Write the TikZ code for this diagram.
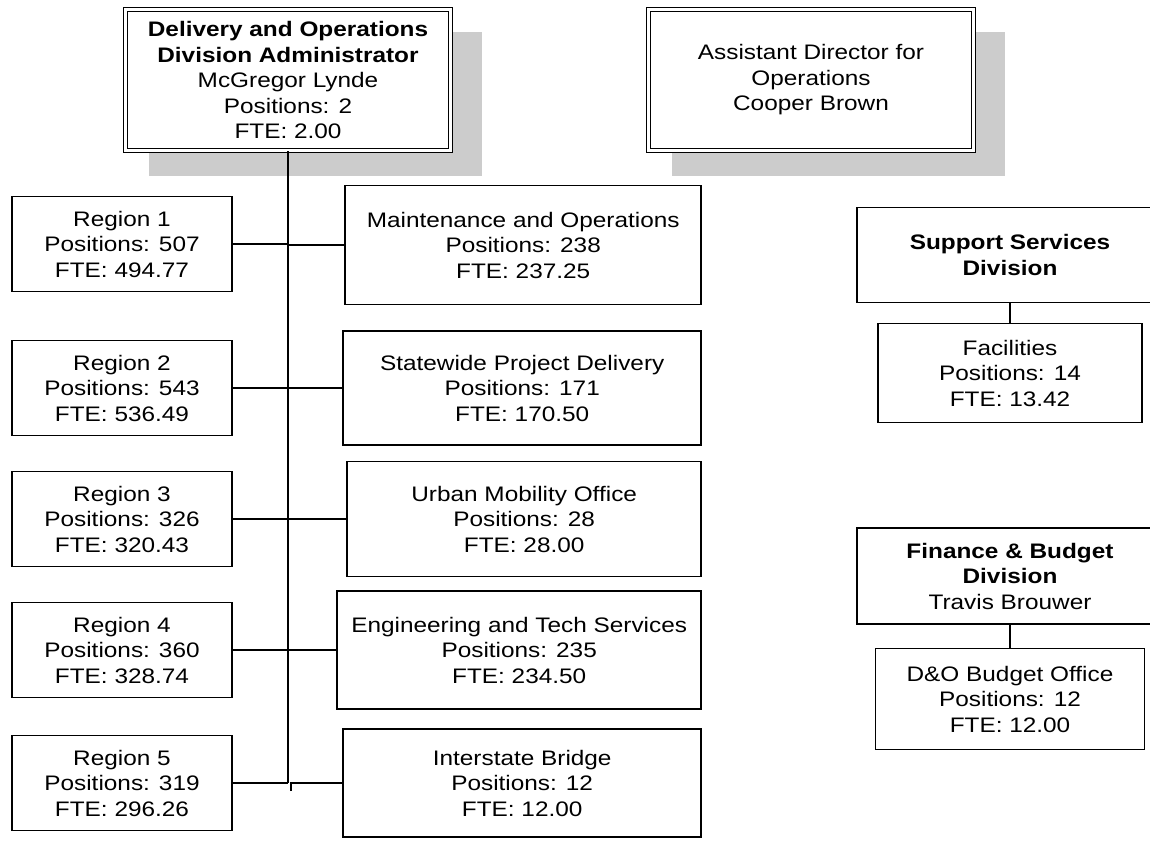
\documentclass[tikz,border=0pt]{standalone}
\usepackage{fontspec}
\setmainfont[FakeStretch=1.16]{Liberation Sans}
\usepackage{xcolor}
\usepackage{tikz}
\usetikzlibrary{backgrounds}
\definecolor{shadowgray}{RGB}{204,204,204}

\begin{document}
\begin{tikzpicture}[
  x=1pt, y=-1pt,
  font=\fontsize{21}{25.5}\selectfont,
  headbox/.style={draw=black, line width=1.2pt, double=white, double distance=2.6pt, fill=white, align=center, inner sep=0pt, minimum width=325pt, minimum height=141pt},
  unit/.style={draw=black, line width=1.6pt, fill=white, align=center, inner sep=0pt},
  regionbox/.style={unit, minimum width=220pt, minimum height=95pt},
  officebox/.style={unit, anchor=east},
  link/.style={line width=1.6pt, draw=black},
  trunkline/.style={line width=2.6pt, draw=black}
]
\useasboundingbox (0,0) rectangle (1150,840);

\node[headbox] (admin) at (288,80)
  {\textbf{Delivery and Operations}\\
   \textbf{Division Administrator}\\
   McGregor Lynde\\
   Positions: 2\\
   FTE: 2.00};

\node[headbox] (asstdir) at (811,80)
  {Assistant Director for\\
   Operations\\
   Cooper Brown};

\node[regionbox] (region1) at (122,244) {Region 1\\Positions: 507\\FTE: 494.77};
\node[regionbox] (region2) at (122,388) {Region 2\\Positions: 543\\FTE: 536.49};
\node[regionbox] (region3) at (122,519) {Region 3\\Positions: 326\\FTE: 320.43};
\node[regionbox] (region4) at (122,650) {Region 4\\Positions: 360\\FTE: 328.74};
\node[regionbox] (region5) at (122,783) {Region 5\\Positions: 319\\FTE: 296.26};

\node[officebox, minimum width=356pt, minimum height=119pt] (maint) at (702,245)
  {Maintenance and Operations\\Positions: 238\\FTE: 237.25};
\node[officebox, minimum width=358pt, minimum height=114pt] (statewide) at (702,388)
  {Statewide Project Delivery\\Positions: 171\\FTE: 170.50};
\node[officebox, minimum width=354pt, minimum height=115pt] (urban) at (702,519)
  {Urban Mobility Office\\Positions: 28\\FTE: 28.00};
\node[officebox, minimum width=364pt, minimum height=118pt] (engtech) at (702,650)
  {Engineering and Tech Services\\Positions: 235\\FTE: 234.50};
\node[officebox, minimum width=358pt, minimum height=108pt] (bridge) at (702,783)
  {Interstate Bridge\\Positions: 12\\FTE: 12.00};

\node[unit, minimum width=306pt, minimum height=95pt] (support) at (1010,255)
  {\textbf{Support Services}\\\textbf{Division}};
\node[unit, minimum width=264pt, minimum height=99pt] (facil) at (1010,373)
  {Facilities\\Positions: 14\\FTE: 13.42};
\node[unit, minimum width=306pt, minimum height=96pt] (finance) at (1010,576)
  {\textbf{Finance \& Budget}\\\textbf{Division}\\Travis Brouwer};
\node[unit, minimum width=269pt, minimum height=101pt] (budgetoff) at (1010,699)
  {D\&O Budget Office\\Positions: 12\\FTE: 12.00};

\coordinate (trunkend) at (288,783);
\draw[trunkline] (admin.south) -- (trunkend);

\draw[link] (region1.east) -- (region1.east -| trunkend);
\draw[link] (region2.east) -- (region2.east -| trunkend);
\draw[link] (region3.east) -- (region3.east -| trunkend);
\draw[link] (region4.east) -- (region4.east -| trunkend);
\draw[link] (region5.east) -- (trunkend);

\draw[link] (maint.west -| trunkend) -- (maint.west);
\draw[link] (statewide.west -| trunkend) -- (statewide.west);
\draw[link] (urban.west -| trunkend) -- (urban.west);
\draw[link] (engtech.west -| trunkend) -- (engtech.west);
\coordinate (bridgejog) at (291,791);
\draw[link] (bridgejog) -- (bridgejog |- bridge.west) -- (bridge.west);

\draw[link] (support.south) -- (facil.north);
\draw[link] (finance.south) -- (budgetoff.north);

\begin{scope}[on background layer]
\fill[shadowgray] ([shift={(24,23)}]admin.north west) rectangle ([shift={(31,25)}]admin.south east);
\fill[shadowgray] ([shift={(24,23)}]asstdir.north west) rectangle ([shift={(31,25)}]asstdir.south east);
\end{scope}

\end{tikzpicture}
\end{document}
